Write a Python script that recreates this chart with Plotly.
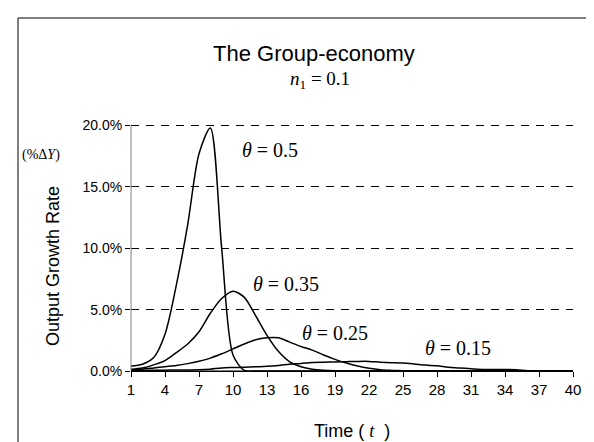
import plotly.graph_objects as go

# ---- data (percent) ----
t = list(range(1, 41))
theta_050 = [0.4, 0.55, 1.1, 3.0, 7.0, 11.9, 17.7, 19.8, 10.0, 1.3,
             0.05, 0, 0, 0, 0, 0, 0, 0, 0, 0,
             0, 0, 0, 0, 0, 0, 0, 0, 0, 0,
             0, 0, 0, 0, 0, 0, 0, 0, 0, 0]
theta_035 = [0.15, 0.25, 0.5, 0.85, 1.5, 2.2, 3.2, 4.7, 5.9, 6.5,
             6.0, 4.5, 2.9, 1.6, 0.75, 0.35, 0.15, 0.06, 0.02, 0,
             0, 0, 0, 0, 0, 0, 0, 0, 0, 0,
             0, 0, 0, 0, 0, 0, 0, 0, 0, 0]
theta_025 = [0.1, 0.15, 0.25, 0.35, 0.45, 0.6, 0.8, 1.05, 1.4, 1.8,
             2.2, 2.55, 2.7, 2.7, 2.35, 2.0, 1.7, 1.3, 0.95, 0.65,
             0.4, 0.22, 0.1, 0.05, 0.02, 0, 0, 0, 0, 0,
             0, 0, 0, 0, 0, 0, 0, 0, 0, 0]
theta_015 = [0.05, 0.05, 0.06, 0.07, 0.08, 0.09, 0.1, 0.15, 0.25, 0.28,
             0.3, 0.34, 0.38, 0.45, 0.55, 0.62, 0.7, 0.72, 0.74, 0.76,
             0.78, 0.78, 0.72, 0.68, 0.65, 0.57, 0.48, 0.42, 0.3, 0.25,
             0.18, 0.13, 0.12, 0.12, 0.1, 0.02, 0, 0, 0, 0]
series = [("θ = 0.5", theta_050), ("θ = 0.35", theta_035),
          ("θ = 0.25", theta_025), ("θ = 0.15", theta_015)]
x_ticks = list(range(1, 41, 3))
y_ticks = [0, 5, 10, 15, 20]

SANS = "Liberation Sans, Arial, sans-serif"
SERIF = "Liberation Serif, Times New Roman, serif"

fig = go.Figure()
for name, vals in series:
    fig.add_trace(go.Scatter(x=t, y=vals, mode="lines", name=name,
                             line=dict(color="black", width=1.5, shape="spline", smoothing=0.8),
                             showlegend=False, hoverinfo="skip"))

# plot area in px: x 123..565, y 115..363 (20% line lands at ~117)
L, R, T, B = 123, 565, 115, 363
W, H = R - L, B - T
def px(x):
    return (x - L) / W
def py(y):
    return (B - y) / H

YMAX = 20.2
fig.update_layout(
    width=594, height=442,
    margin=dict(l=L, r=594 - R, t=T, b=442 - B),
    paper_bgcolor="white", plot_bgcolor="white",
    font=dict(family=SANS, size=14, color="black"),
    xaxis=dict(range=[1, 40], tickmode="array", tickvals=x_ticks,
               ticktext=[str(v) for v in x_ticks],
               showgrid=False, zeroline=False, showline=True, linecolor="black", linewidth=1,
               ticks="outside", ticklen=5, tickcolor="black", tickfont=dict(size=15)),
    yaxis=dict(range=[0, YMAX], tickmode="array", tickvals=y_ticks,
               ticktext=[f"{v:.1f}%" for v in y_ticks],
               showgrid=True, gridcolor="black", gridwidth=1, griddash="8px,7px",
               zeroline=False, showline=False,
               ticks="outside", ticklen=5, tickcolor="black", tickfont=dict(size=14)),
    yaxis2=dict(range=[0, YMAX], overlaying="y", tickmode="array", tickvals=y_ticks,
                showticklabels=False, showgrid=False, zeroline=False, showline=False,
                ticks="inside", ticklen=6, tickcolor="black", side="left"),
)

# invisible helper trace so the cross-tick axis is drawn
fig.add_trace(go.Scatter(x=[1], y=[0], yaxis="y2", mode="markers",
                         marker=dict(opacity=0), showlegend=False, hoverinfo="skip"))

# gray y-axis line from 0 to 20%
fig.add_shape(type="line", xref="paper", yref="y", x0=0, x1=0, y0=0, y1=20,
              line=dict(color="#808080", width=1))
# x-axis line drawn black at zero
fig.add_shape(type="line", xref="paper", yref="paper", x0=0, x1=1, y0=0, y1=0,
              line=dict(color="black", width=1))

# outer chart-area border (top and left edges visible)
fig.add_shape(type="line", xref="paper", yref="paper",
              x0=px(10), x1=px(620), y0=py(10), y1=py(10),
              line=dict(color="black", width=1))
fig.add_shape(type="line", xref="paper", yref="paper",
              x0=px(10), x1=px(10), y0=py(10), y1=py(470),
              line=dict(color="black", width=1))

ann = [
    dict(x=px(306), y=py(45), text="The Group-economy", font=dict(family=SANS, size=22)),
    dict(x=px(312), y=py(72), text="<i>n</i><sub>1</sub> = 0.1", font=dict(family=SERIF, size=19)),
    dict(x=px(33), y=py(147), text="(%Δ<i>Y</i>)", font=dict(family=SERIF, size=14)),
    dict(x=px(45), y=py(258), text="Output Growth Rate", textangle=-90, font=dict(family=SANS, size=18)),
    dict(x=px(344), y=py(423), text="Time ( <i style='font-family:Liberation Serif'>t</i>  )",
         font=dict(family=SANS, size=18)),
    dict(x=px(262), y=py(142), text="<i>θ</i> = 0.5", font=dict(family=SERIF, size=20)),
    dict(x=px(278), y=py(276), text="<i>θ</i> = 0.35", font=dict(family=SERIF, size=20)),
    dict(x=px(327), y=py(325), text="<i>θ</i> = 0.25", font=dict(family=SERIF, size=20)),
    dict(x=px(450), y=py(340), text="<i>θ</i> = 0.15", font=dict(family=SERIF, size=20)),
]
for a in ann:
    a.update(xref="paper", yref="paper", showarrow=False, xanchor="center", yanchor="middle")
    fig.add_annotation(**a)

fig.write_html("out.html")
